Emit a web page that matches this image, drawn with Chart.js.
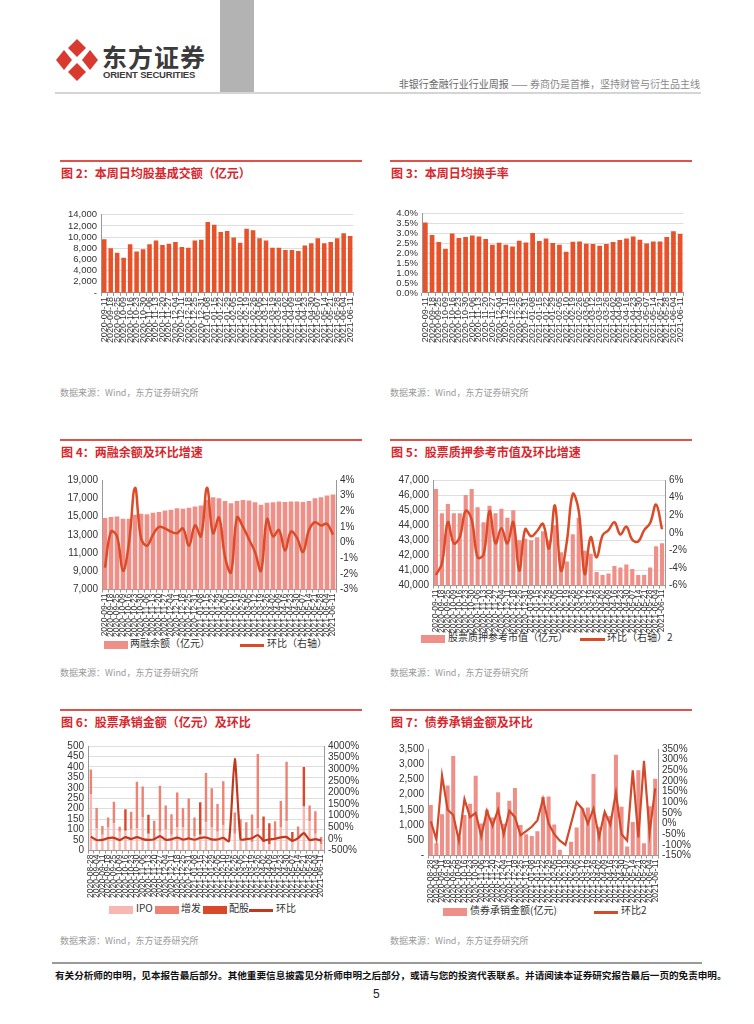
<!DOCTYPE html>
<html>
<head>
<meta charset="utf-8">
<script src="https://cdn.jsdelivr.net/npm/chart.js@4"></script>
<style>
  body { margin:0; background:#fff; width:754px; height:1024px; position:relative; overflow:hidden;
         font-family:"Liberation Sans","Noto Sans CJK SC",Arial,sans-serif; }
  .abs { position:absolute; }
  .title { position:absolute; color:#d9262c; font-weight:bold; font-size:12px; font-family:"Noto Sans CJK SC",sans-serif; white-space:nowrap; }
  .rule { position:absolute; height:1.5px; background:#e0514a; }
  .src { position:absolute; color:#9a9a9a; font-size:9px; font-family:"Noto Sans CJK SC",sans-serif; white-space:nowrap; }
  .lg { position:absolute; font-size:10px; color:#333; font-family:"Noto Sans CJK SC",sans-serif; white-space:nowrap; }
  .box { position:absolute; height:8px; }
  .ln { position:absolute; height:2.5px; }
  .cv { position:absolute; }
</style>
</head>
<body>
<!-- header -->
<div class="abs" style="left:220px;top:0;width:34px;height:92px;background:#b3b3b3"></div>
<svg class="abs" style="left:55px;top:38px" width="44" height="44" viewBox="0 0 44 44">
  <g fill="#d93a30">
    <path d="M22 1 L31 10 L22 19 L13 10 Z"/>
    <path d="M22 25 L31 34 L22 43 L13 34 Z"/>
    <path d="M1 22 L9 12 L17 22 L9 32 Z"/>
    <path d="M43 22 L35 12 L27 22 L35 32 Z"/>
  </g>
</svg>
<div class="abs" style="left:102px;top:38px;font-size:25px;font-weight:bold;color:#3b3b3b;font-family:'Noto Sans CJK SC';letter-spacing:1px">东方证券</div>
<div class="abs" style="left:103px;top:69px;font-size:9.5px;font-weight:bold;color:#3b3b3b;letter-spacing:-0.2px">ORIENT SECURITIES</div>
<div class="abs" style="right:54px;top:76px;font-size:10px;color:#888;font-family:'Noto Sans CJK SC'"><span style="color:#666">非银行金融行业行业周报</span> —— 券商仍是首推，坚持财管与衍生品主线</div>
<div class="abs" style="left:55px;top:92px;width:646px;height:1.5px;background:#d5d5d5"></div>

<!-- panel titles -->
<div class="rule" style="left:60px;top:160px;width:302px"></div>
<div class="title" style="left:61px;top:164px">图 2：本周日均股基成交额（亿元）</div>
<div class="rule" style="left:390px;top:160px;width:302px"></div>
<div class="title" style="left:391px;top:164px">图 3：本周日均换手率</div>
<div class="src" style="left:60px;top:386px">数据来源：Wind，东方证券研究所</div>
<div class="src" style="left:390px;top:386px">数据来源：Wind，东方证券研究所</div>

<div class="rule" style="left:60px;top:439px;width:302px"></div>
<div class="title" style="left:61px;top:443px">图 4：两融余额及环比增速</div>
<div class="rule" style="left:390px;top:439px;width:302px"></div>
<div class="title" style="left:391px;top:443px">图 5：股票质押参考市值及环比增速</div>
<div class="src" style="left:60px;top:666px">数据来源：Wind，东方证券研究所</div>
<div class="src" style="left:390px;top:666px">数据来源：Wind，东方证券研究所</div>

<div class="rule" style="left:60px;top:709px;width:302px"></div>
<div class="title" style="left:61px;top:713px">图 6：股票承销金额（亿元）及环比</div>
<div class="rule" style="left:390px;top:709px;width:302px"></div>
<div class="title" style="left:391px;top:713px">图 7：债券承销金额及环比</div>
<div class="src" style="left:60px;top:934px">数据来源：Wind，东方证券研究所</div>
<div class="src" style="left:390px;top:934px">数据来源：Wind，东方证券研究所</div>

<!-- legends -->
<div class="box" style="left:104px;top:641px;width:24px;background:#ef9088"></div>
<div class="lg" style="left:130px;top:635px">两融余额（亿元）</div>
<div class="ln" style="left:240px;top:644px;width:24px;background:#dc4b27"></div>
<div class="lg" style="left:267px;top:635px">环比（右轴）</div>

<div class="box" style="left:421px;top:635px;width:24px;background:#ef9088"></div>
<div class="lg" style="left:448px;top:629px">股票质押参考市值（亿元）</div>
<div class="ln" style="left:580px;top:638px;width:25px;background:#dc4b27"></div>
<div class="lg" style="left:607px;top:629px">环比（右轴）2</div>

<div class="box" style="left:109px;top:906px;width:24px;background:#f6b8b0"></div>
<div class="lg" style="left:136px;top:900px">IPO</div>
<div class="box" style="left:155px;top:906px;width:24px;background:#ee8273"></div>
<div class="lg" style="left:181px;top:900px">增发</div>
<div class="box" style="left:203px;top:906px;width:24px;background:#d9482b"></div>
<div class="lg" style="left:229px;top:900px">配股</div>
<div class="ln" style="left:249px;top:909px;width:24px;background:#c0391f"></div>
<div class="lg" style="left:276px;top:900px">环比</div>

<div class="box" style="left:443px;top:908px;width:24px;background:#ef9088"></div>
<div class="lg" style="left:470px;top:902px">债券承销金额(亿元)</div>
<div class="ln" style="left:594px;top:911px;width:24px;background:#d24a2a"></div>
<div class="lg" style="left:621px;top:902px">环比2</div>

<!-- charts -->
<div class="cv" style="left:55px;top:205px;width:307px;height:139px"><canvas id="c2"></canvas></div>
<div class="cv" style="left:385px;top:204px;width:307px;height:140px"><canvas id="c3"></canvas></div>
<div class="cv" style="left:55px;top:470px;width:305px;height:168px"><canvas id="c4"></canvas></div>
<div class="cv" style="left:385px;top:470px;width:307px;height:164px"><canvas id="c5"></canvas></div>
<div class="cv" style="left:55px;top:736px;width:307px;height:163px"><canvas id="c6"></canvas></div>
<div class="cv" style="left:385px;top:739px;width:310px;height:165px"><canvas id="c7"></canvas></div>

<!-- footer -->
<div class="abs" style="left:52px;top:962px;width:650px;height:2px;background:#9a9a9a"></div>
<div class="abs" style="left:55px;top:968px;font-size:9.6px;font-weight:bold;color:#111;font-family:'Noto Sans CJK SC';white-space:nowrap">有关分析师的申明，见本报告最后部分。其他重要信息披露见分析师申明之后部分，或请与您的投资代表联系。并请阅读本证券研究报告最后一页的免责申明。</div>
<div class="abs" style="left:373px;top:987px;font-size:12px;color:#222">5</div>

<script>
// weekly dates (41 weeks)
const weeks = ['2020-08-28','2020-09-04','2020-09-11','2020-09-18','2020-09-25','2020-10-09','2020-10-16','2020-10-23','2020-10-30',
  '2020-11-06','2020-11-13','2020-11-20','2020-11-27','2020-12-04','2020-12-11','2020-12-18','2020-12-25','2020-12-31',
  '2021-01-08','2021-01-15','2021-01-22','2021-01-29','2021-02-05','2021-02-10','2021-02-19','2021-02-26','2021-03-05',
  '2021-03-12','2021-03-19','2021-03-26','2021-04-02','2021-04-09','2021-04-16','2021-04-23','2021-04-30','2021-05-07',
  '2021-05-14','2021-05-21','2021-05-28','2021-06-04','2021-06-11'];
const weeks39 = weeks.slice(2);

// fig 2: daily turnover (亿元)
const turnover = [9600,8000,7200,6300,8700,7400,7800,8700,9400,8600,8800,9100,8200,8100,9400,9500,12700,12200,10900,11100,
  9900,9000,11500,11200,9800,9400,8100,8100,7700,7700,7500,8500,8900,9800,8900,9100,9800,10700,10200];
// fig 3: turnover rate (%)
const turnRate = [3.55,2.93,2.57,2.23,3.0,2.78,2.83,2.9,2.85,2.72,2.43,2.53,2.43,2.35,2.63,2.55,3.03,2.62,2.75,2.52,
  2.43,2.08,2.58,2.6,2.48,2.47,2.38,2.47,2.57,2.67,2.75,2.85,2.68,2.5,2.6,2.6,2.83,3.12,2.97];
// fig 4: margin balance (亿元) and w/w change (%)
const marginBal = [14850,14950,15000,14750,14750,15200,15300,15250,15400,15500,15650,15750,15900,15850,15950,16100,16200,16800,17100,17000,
  16700,16450,16700,16800,16750,16550,16300,16500,16550,16650,16600,16650,16650,16600,16700,17000,17100,17300,17400];
const marginChg = [-1.6,0.7,0.4,-1.8,0.0,3.5,0.3,-0.2,0.5,1.0,0.9,0.7,0.6,0.9,-0.2,1.1,0.4,3.5,0.6,1.6,
  -0.9,-1.9,1.6,1.0,0.2,-0.6,-1.8,1.5,0.4,0.8,-0.5,0.7,0.3,-0.6,0.8,1.3,1.1,1.2,0.5];
// fig 5: pledge market value (亿元) and change (%)
const pledgeVal = [46400,44800,45400,44800,44800,46000,46400,45200,44200,45300,44800,45100,44500,45000,43000,43100,43000,43200,43600,43000,
  44000,42200,41600,43400,44500,42300,42100,40900,40700,40800,41300,41200,41400,41100,40700,40700,41200,42600,42800];
const pledgeChg = [-4.8,-3.5,1.2,-1.2,-0.5,2.5,1.5,-2.8,-2.5,2.5,-1.2,0.5,-1.2,1.2,-4.3,0.4,-0.4,0.2,1.0,-1.8,
  3.1,-4.3,-1.0,4.4,2.5,-4.7,-0.5,-2.8,-0.3,0.3,1.2,-0.2,0.7,-0.8,-1.0,0.3,1.1,3.2,0.4];
// fig 6: equity underwriting (亿元)
const ipo    = [270,105,75,110,130,90,95,100,105,160,80,60,90,100,75,110,110,60,70,75,135,110,90,120,5,80,70,60,40,105,40,30,60,110,140,40,60,210,140,80,30];
const zengfa = [118,98,42,48,103,24,0,86,224,146,0,83,220,115,99,167,92,189,88,0,236,188,133,211,0,102,80,75,132,357,0,0,80,127,285,0,55,0,75,108,35];
const peigu  = [0,0,0,0,0,0,103,0,0,0,91,0,0,0,0,0,0,0,0,156,0,0,0,0,0,0,0,0,0,0,123,100,0,0,0,48,0,190,0,0,0];
const equityChg = [90,-48,-42,35,47,-51,74,-6,77,-7,-44,-16,117,-31,-19,59,-27,23,-37,46,61,-20,-25,48,-98,3450,
  -18,-10,27,169,-65,-20,8,69,79,-79,31,248,-46,-13,-65];
// fig 7: bond underwriting (亿元) and change (%)
const bondAmt = [1660,400,1360,2300,3270,600,1330,1700,2620,1050,1500,1250,2080,1040,1800,2220,1000,700,640,800,
  1920,1940,1020,190,20,450,920,1550,1580,2680,940,1350,1300,3310,1600,300,1100,2800,400,1620,2520];
const bondChg = [10,-75,225,65,40,-80,115,30,50,-60,60,-10,65,-50,60,30,-55,-35,-15,15,
  115,0,-50,-80,-100,0,100,70,0,70,-65,55,-5,145,-50,-80,250,-65,295,-45,165];

Chart.defaults.font.family = '"Liberation Sans", Arial, sans-serif';
Chart.defaults.color = '#333';
Chart.defaults.animation = false;

const comma = v => v === 0 ? '-' : v.toLocaleString('en-US');

function xAxis(size) {
  return {
    offset: true,
    grid: { display: true, drawOnChartArea: false, drawTicks: true, tickLength: 3, color: '#999' },
    border: { color: '#999' },
    ticks: { autoSkip: false, minRotation: 90, maxRotation: 90, padding: 1, font: { size: size } }
  };
}
function yAxis(o) {
  return {
    position: o.pos || 'left',
    min: o.min, max: o.max,
    grid: { display: o.grid !== false, drawOnChartArea: o.grid !== false, drawTicks: false, color: '#dedede' },
    border: { display: true, color: '#999' },
    ticks: { stepSize: o.step, autoSkip: false, padding: 4, font: { size: o.fs || 10 }, callback: o.fmt },
    afterFit: s => { s.width = o.w; }
  };
}
function opts(scales, pad) {
  return {
    responsive: true, maintainAspectRatio: false,
    layout: { padding: pad },
    plugins: { legend: { display: false }, tooltip: { enabled: false } },
    scales: scales
  };
}

// fig 2
new Chart(document.getElementById('c2'), {
  type: 'bar',
  data: { labels: weeks39, datasets: [{ data: turnover, backgroundColor: '#e8522a', barPercentage: 0.7, categoryPercentage: 1 }] },
  options: opts({ x: xAxis(9), y: yAxis({ min: 0, max: 14000, step: 2000, w: 46, fs: 9.5, fmt: comma }) }, { top: 4, right: 5 })
});

// fig 3
new Chart(document.getElementById('c3'), {
  type: 'bar',
  data: { labels: weeks39, datasets: [{ data: turnRate, backgroundColor: '#e8522a', barPercentage: 0.7, categoryPercentage: 1 }] },
  options: opts({ x: xAxis(9), y: yAxis({ min: 0, max: 4, step: 0.5, w: 37, fs: 9.5, fmt: v => v.toFixed(1) + '%' }) }, { top: 4, right: 5 })
});

// fig 4
new Chart(document.getElementById('c4'), {
  data: { labels: weeks39, datasets: [
    { type: 'line', data: marginChg, yAxisID: 'y1', borderColor: '#dc4b27', borderWidth: 2.5, pointRadius: 0, tension: 0.4, order: 0 },
    { type: 'bar', data: marginBal, yAxisID: 'y', backgroundColor: '#ef9088', barPercentage: 0.78, categoryPercentage: 1, order: 1 }
  ] },
  options: opts({
    x: xAxis(8.5),
    y: yAxis({ min: 7000, max: 19000, step: 2000, w: 47, fmt: v => v.toLocaleString('en-US'), grid: false }),
    y1: yAxis({ pos: 'right', min: -3, max: 4, step: 1, w: 24, fmt: v => v + '%', grid: false })
  }, { top: 4, right: 0 })
});

// fig 5
new Chart(document.getElementById('c5'), {
  data: { labels: weeks39, datasets: [
    { type: 'line', data: pledgeChg, yAxisID: 'y1', borderColor: '#dc4b27', borderWidth: 2.5, pointRadius: 0, tension: 0.4, order: 0 },
    { type: 'bar', data: pledgeVal, yAxisID: 'y', backgroundColor: '#ef9088', barPercentage: 0.7, categoryPercentage: 1, order: 1 }
  ] },
  options: opts({
    x: xAxis(8.5),
    y: yAxis({ min: 40000, max: 47000, step: 1000, w: 48, fmt: v => v.toLocaleString('en-US') }),
    y1: yAxis({ pos: 'right', min: -6, max: 6, step: 2, w: 27, fmt: v => v + '%', grid: false })
  }, { top: 4, right: 0 })
});

// fig 6
new Chart(document.getElementById('c6'), {
  data: { labels: weeks, datasets: [
    { type: 'line', data: equityChg, yAxisID: 'y1', borderColor: '#c0391f', borderWidth: 2.2, pointRadius: 0, tension: 0.2, order: 0 },
    { type: 'bar', data: ipo, yAxisID: 'y', backgroundColor: '#f6b8b0', barPercentage: 0.42, categoryPercentage: 1, order: 1 },
    { type: 'bar', data: zengfa, yAxisID: 'y', backgroundColor: '#ee8273', barPercentage: 0.42, categoryPercentage: 1, order: 1 },
    { type: 'bar', data: peigu, yAxisID: 'y', backgroundColor: '#d9482b', barPercentage: 0.42, categoryPercentage: 1, order: 1 }
  ] },
  options: opts({
    x: Object.assign(xAxis(8.5), { stacked: true }),
    y: Object.assign(yAxis({ min: 0, max: 500, step: 50, w: 33, fmt: v => v }), { stacked: true }),
    y1: yAxis({ pos: 'right', min: -500, max: 4000, step: 500, w: 38, fmt: v => v + '%', grid: false })
  }, { top: 4, right: 0 })
});

// fig 7
new Chart(document.getElementById('c7'), {
  data: { labels: weeks, datasets: [
    { type: 'line', data: bondChg, yAxisID: 'y1', borderColor: '#d24a2a', borderWidth: 2.2, pointRadius: 0, tension: 0, order: 0 },
    { type: 'bar', data: bondAmt, yAxisID: 'y', backgroundColor: '#ef9088', barPercentage: 0.72, categoryPercentage: 1, order: 1 }
  ] },
  options: opts({
    x: xAxis(8.5),
    y: yAxis({ min: 0, max: 3500, step: 500, w: 43, fmt: comma, grid: false }),
    y1: yAxis({ pos: 'right', min: -150, max: 350, step: 50, w: 37, fmt: v => v + '%', grid: false })
  }, { top: 4, right: 0 })
});
</script>
</body>
</html>
